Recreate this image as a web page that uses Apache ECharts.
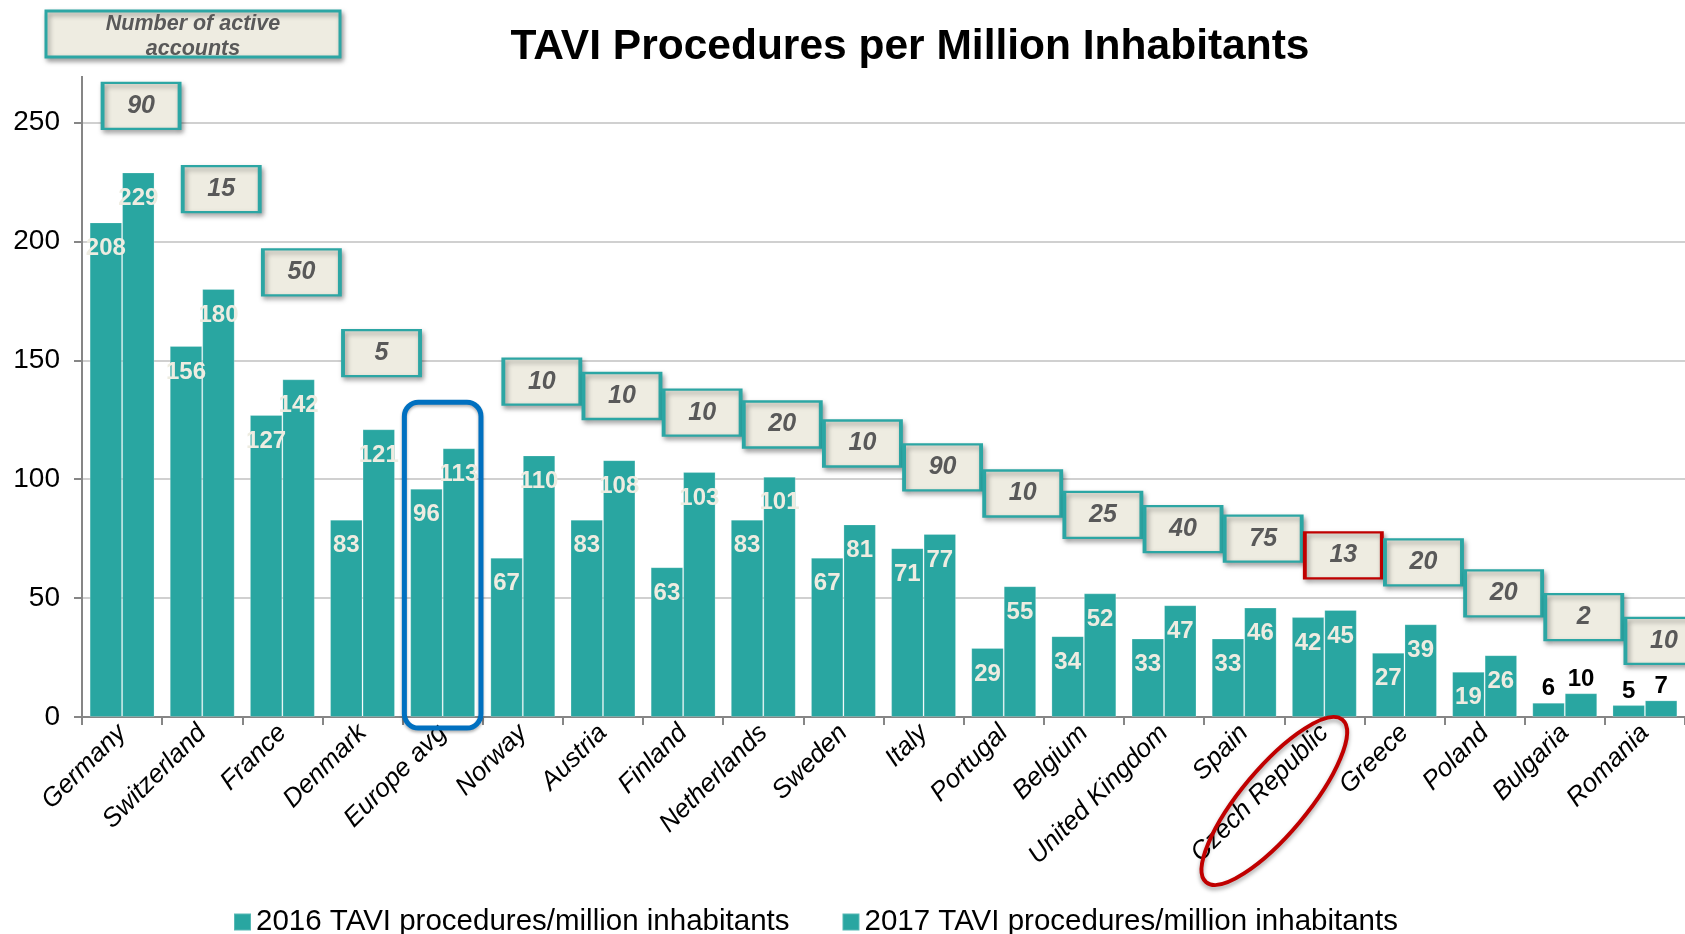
<!DOCTYPE html>
<html>
<head>
<meta charset="utf-8">
<script src="https://cdn.jsdelivr.net/npm/echarts@6/dist/echarts.min.js"></script>
<style>
  html, body { margin: 0; padding: 0; background: #fff; }
  #chart { width: 1685px; height: 934px; }
</style>
</head>
<body>
<div id="chart"></div>
<script>
const countries = ['Germany', 'Switzerland', 'France', 'Denmark', 'Europe avg', 'Norway', 'Austria', 'Finland',
    'Netherlands', 'Sweden', 'Italy', 'Portugal', 'Belgium', 'United Kingdom', 'Spain', 'Czech Republic',
    'Greece', 'Poland', 'Bulgaria', 'Romania']
const tavi2016 = [208, 156, 127, 83, 96, 67, 83, 63, 83, 67, 71, 29, 34, 33, 33, 42, 27, 19, 6, 5]
const tavi2017 = [229, 180, 142, 121, 113, 110, 108, 103, 101, 81, 77, 55, 52, 47, 46, 45, 39, 26, 10, 7]
const activeAccounts = [90, 15, 50, 5, null, 10, 10, 10, 20, 10, 90, 10, 25, 40, 75, 13, 20, 20, 2, 10]

// where the account boxes sit, in axis units (staircase from the slide)
const accountBoxLevel = [257, 222, 187, 153, null, 141, 135, 128, 123, 115, 105, 94, 85, 79, 75, 68, 65, 52, 42, 32]

const FONT = 'Liberation Sans'
const TEAL = '#29A6A1'
const BEIGE = '#EEECE1'

const barLabel = {
    show: true,
    position: 'insideTop',
    distance: 14,
    color: BEIGE,
    fontFamily: FONT,
    fontWeight: 'bold',
    fontSize: 24
}
const smallLabel = { position: 'top', distance: 2, color: '#000' }

const toBarData = arr => arr.map(v => v < 15 ? { value: v, label: smallLabel } : v)

const highlightIdx = countries.indexOf('Czech Republic')
const boxData = activeAccounts.map((n, i) => {
    if (n == null) return '-'
    let item = { value: [i, accountBoxLevel[i]] }
    if (i === highlightIdx) item.itemStyle = { borderColor: '#C00000' }
    return item
})

let myChart = echarts.init(document.getElementById('chart'))

let options = {
    animation: false,
    title: {
        text: 'TAVI Procedures per Million Inhabitants',
        left: 905,
        top: 21,
        textAlign: 'center',
        textStyle: { fontFamily: FONT, fontWeight: 'bold', fontSize: 42.5, color: '#000' }
    },
    legend: {
        data: ['2016 TAVI procedures/million inhabitants', '2017 TAVI procedures/million inhabitants'],
        left: 228,
        top: 902,
        icon: 'rect',
        itemWidth: 17,
        itemHeight: 17,
        itemGap: 52,
        textStyle: { fontFamily: FONT, fontSize: 29.5, color: '#000' }
    },
    grid: { left: 82, top: 122.5, width: 1612, bottom: 217, containLabel: false },
    xAxis: {
        type: 'category',
        data: countries,
        axisLine: { lineStyle: { color: '#868686', width: 2 } },
        axisTick: { show: true, length: 8, lineStyle: { color: '#868686', width: 2 } },
        axisLabel: {
            rotate: 45,
            margin: 12,
            interval: 0,
            fontFamily: FONT,
            fontStyle: 'italic',
            fontSize: 26,
            color: '#000'
        }
    },
    yAxis: {
        type: 'value',
        min: 0,
        max: 250,
        interval: 50,
        axisLine: { show: true, lineStyle: { color: '#868686', width: 2 } },
        axisTick: { show: true, length: 8, lineStyle: { color: '#868686', width: 2 } },
        axisLabel: { margin: 22, fontFamily: FONT, fontSize: 28, color: '#000' },
        splitLine: { lineStyle: { color: '#D0D0D0', width: 2 } }
    },
    series: [{
        name: '2016 TAVI procedures/million inhabitants',
        type: 'bar',
        data: toBarData(tavi2016),
        barGap: '0%',
        barCategoryGap: '19%',
        itemStyle: { color: TEAL, borderColor: 'rgba(255,255,255,0.22)', borderWidth: 1 },
        label: barLabel
    }, {
        name: '2017 TAVI procedures/million inhabitants',
        type: 'bar',
        data: toBarData(tavi2017),
        barGap: '0%',
        barCategoryGap: '19%',
        itemStyle: { color: TEAL, borderColor: 'rgba(255,255,255,0.22)', borderWidth: 1 },
        label: barLabel
    }, {
        name: 'Number of active accounts',
        type: 'scatter',
        data: boxData,
        clip: false,
        symbol: 'rect',
        symbolSize: [77, 46],
        symbolOffset: [19, 0],
        z: 5,
        itemStyle: {
            color: BEIGE,
            borderColor: '#2CA6A4',
            borderWidth: 3,
            opacity: 1,
            shadowBlur: 5,
            shadowOffsetX: 2,
            shadowOffsetY: 3,
            shadowColor: 'rgba(0,0,0,0.35)'
        },
        label: {
            show: true,
            position: 'inside',
            formatter: p => activeAccounts[p.dataIndex],
            fontFamily: FONT,
            fontStyle: 'italic',
            fontWeight: 'bold',
            fontSize: 25,
            color: '#595959'
        },
        emphasis: { disabled: true }
    }]
}
myChart.setOption(options)

// annotations: legend box for the account numbers, highlight frame and ellipse
const zeroY = myChart.convertToPixel({ yAxisIndex: 0 }, 0)
const topY = myChart.convertToPixel({ yAxisIndex: 0 }, 250)
const catW = 1612 / countries.length
const avgIdx = countries.indexOf('Europe avg')
const avgX = myChart.convertToPixel({ xAxisIndex: 0 }, avgIdx)
const avgTop = myChart.convertToPixel({ yAxisIndex: 0 }, tavi2017[avgIdx]) - 46
const czX = myChart.convertToPixel({ xAxisIndex: 0 }, highlightIdx)

myChart.setOption({
    graphic: [{
        type: 'line',
        shape: { x1: 82, y1: 76, x2: 82, y2: topY },
        style: { stroke: '#868686', lineWidth: 2 }
    }, {
        type: 'rect',
        shape: { x: 46, y: 11, width: 294, height: 46 },
        style: {
            fill: BEIGE, stroke: '#2CA6A4', lineWidth: 3,
            shadowBlur: 5, shadowOffsetX: 2, shadowOffsetY: 3, shadowColor: 'rgba(0,0,0,0.35)'
        }
    }, {
        type: 'text',
        x: 193, y: 37,
        style: {
            text: 'Number of active\naccounts',
            align: 'center', verticalAlign: 'middle',
            fontFamily: FONT, fontStyle: 'italic', fontWeight: 'bold', fontSize: 21.5,
            lineHeight: 25, fill: '#595959'
        }
    }, {
        type: 'rect',
        z: 10,
        shape: { x: avgX - catW / 2 + 2, y: avgTop, width: catW - 4, height: zeroY + 11 - avgTop, r: 14 },
        style: { fill: null, stroke: '#0070C0', lineWidth: 5, shadowBlur: 3, shadowColor: 'rgba(0,0,0,0.3)', shadowOffsetY: 2 }
    }, {
        type: 'ellipse',
        z: 10,
        x: czX - 50, y: zeroY + 84,
        rotation: 50 * Math.PI / 180,
        shape: { cx: 0, cy: 0, rx: 106, ry: 33 },
        style: { fill: null, stroke: '#C00000', lineWidth: 4, shadowBlur: 4, shadowColor: 'rgba(0,0,0,0.35)', shadowOffsetY: 3 }
    }]
})
</script>
</body>
</html>
